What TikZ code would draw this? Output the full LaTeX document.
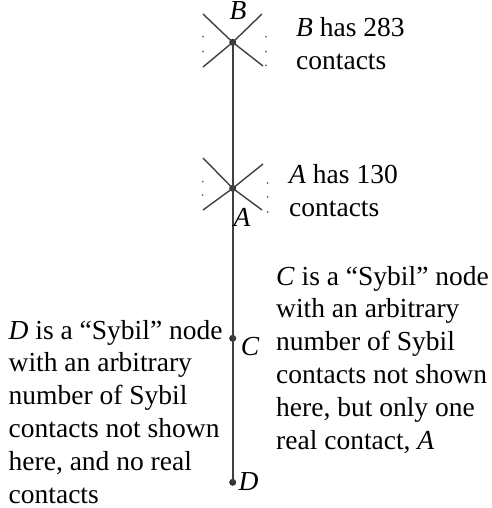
\documentclass[tikz,border=0pt]{standalone}
\usepackage{fontspec}
\setmainfont{Liberation Serif}
\tikzset{
  edge/.style={draw=black!75, line width=1.7pt},
  xline/.style={draw=black!75, line width=1.4pt},
  vdot/.style={circle, fill=black!80, inner sep=0pt, minimum size=7pt},
  tiny/.style={circle, fill=black!60, inner sep=0pt, minimum size=2pt},
  txt/.style={anchor=base west, align=left, inner sep=0pt, font=\fontsize{27.5}{32.9}\selectfont},
  lab/.style={anchor=base, inner sep=0pt, font=\fontsize{27.5}{32.9}\selectfont\itshape}
}
\begin{document}
\begin{tikzpicture}[x=1pt,y=-1pt]
\useasboundingbox (0,0) rectangle (491,508);
% main nodes
\node[vdot] (B) at (232.7,42.3) {};
\node[vdot] (A) at (232.7,188.3) {};
\node[vdot] (C) at (232.7,338.3) {};
\node[vdot] (D) at (232.7,482.3) {};
\draw[edge] (B.center) -- (D.center);
% cross at B
\coordinate (B1) at (203,14);
\coordinate (B2) at (262,14);
\coordinate (B3) at (203,67);
\coordinate (B4) at (263,66);
\draw[xline] (B1) -- (B.center) -- (B4);
\draw[xline] (B2) -- (B.center) -- (B3);
\foreach \p [count=\i] in {(203,36.7),(203,51.7),(266,36.7),(266,51.7),(266,65.3)}
  \node[tiny] (bd\i) at \p {};
% cross at A
\coordinate (A1) at (203,158);
\coordinate (A2) at (263,164);
\coordinate (A3) at (203,210);
\coordinate (A4) at (262,210);
\draw[xline] (A1) -- (A.center) -- (A4);
\draw[xline] (A2) -- (A.center) -- (A3);
\foreach \p [count=\i] in {(202.7,181.7),(202.7,195),(267.7,183),(267.7,197),(267.7,212)}
  \node[tiny] (ad\i) at \p {};
% labels
\node[lab] (Blab) at (238,20) {B};
\node[lab] (Alab) at (242,226) {A};
\node[lab] (Clab) at (250,355) {C};
\node[lab] (Dlab) at (248.5,490) {D};
% texts (anchor = baseline of the last line)
\node[txt] (Btxt) at (296,69.6) {\textit{B} has 283\\contacts};
\node[txt] (Atxt) at (289,216.2) {\textit{A} has 130\\contacts};
\node[txt] (Ctxt) at (276,449.5) {\textit{C} is a “Sybil” node\\with an arbitrary\\number of Sybil\\contacts not shown\\here, but only one\\real contact, \textit{A}};
\node[txt] (Dtxt) at (8.5,503.5) {\textit{D} is a “Sybil” node\\with an arbitrary\\number of Sybil\\contacts not shown\\here, and no real\\contacts};
\end{tikzpicture}
\end{document}
